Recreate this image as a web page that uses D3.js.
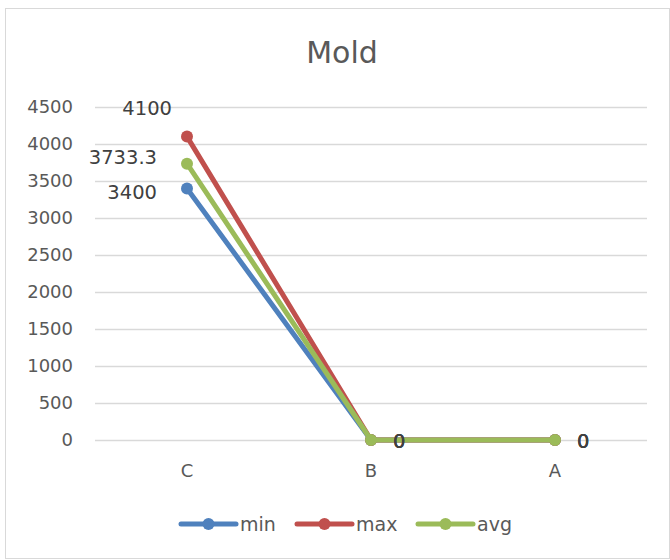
<!DOCTYPE html>
<html><head><meta charset="utf-8">
<script src="https://cdn.jsdelivr.net/npm/d3@7"></script>
<style>body{margin:0;background:#fff}svg{display:block}</style>
</head><body>
<script>
const categories = ["C", "B", "A"];
const minValues = [3400, 0, 0];
const maxValues = [4100, 0, 0];
const avgValues = [3733.3, 0, 0];
const yTicks = [0, 500, 1000, 1500, 2000, 2500, 3000, 3500, 4000, 4500];
const seriesNames = ["min", "max", "avg"];
const seriesColors = ["#4F81BD", "#C0504D", "#9BBB59"];

const series = [
  {name: seriesNames[0], values: minValues, color: seriesColors[0], lab: {dx: -30, dy: 4}},
  {name: seriesNames[1], values: maxValues, color: seriesColors[1], lab: {dx: -15, dy: -29}},
  {name: seriesNames[2], values: avgValues, color: seriesColors[2], lab: {dx: -30, dy: -7}}
];

const W = 670, H = 560;
const font = "'DejaVu Sans', sans-serif";
const svg = d3.select("body").append("svg").attr("width", W).attr("height", H);
svg.append("rect").attr("x", 5.5).attr("y", 8.5).attr("width", W - 6).attr("height", H - 10)
  .attr("fill", "#fff").attr("stroke", "#d9d9d9");

const x = d3.scaleBand().domain(categories).range([95, 647]);
const y = d3.scaleLinear().domain([0, 4500]).range([440, 107]);

svg.append("text").attr("x", 342).attr("y", 63).attr("text-anchor", "middle")
  .attr("font-family", font).attr("font-size", 30).attr("fill", "#595959").text("Mold");

const yAxis = svg.append("g").attr("transform", "translate(95,0)")
  .call(d3.axisLeft(y).tickValues(yTicks).tickFormat(d3.format("d")).tickSize(-552).tickPadding(22));
yAxis.select(".domain").remove();
yAxis.selectAll("line").attr("stroke", "#d9d9d9").attr("stroke-width", 1.3);
yAxis.selectAll("text").attr("font-family", font).attr("font-size", 18).attr("fill", "#595959");

const xAxis = svg.append("g").attr("transform", "translate(0,440)")
  .call(d3.axisBottom(x).tickSize(0).tickPadding(24));
xAxis.select(".domain").remove();
xAxis.selectAll("text").attr("font-family", font).attr("font-size", 18).attr("fill", "#595959");

const cx = (i) => x(categories[i]) + x.bandwidth() / 2;
const line = d3.line().x((d, i) => cx(i)).y(d => y(d));
series.forEach(s => {
  const g = svg.append("g");
  g.append("path").datum(s.values).attr("d", line).attr("fill", "none")
    .attr("stroke", s.color).attr("stroke-width", 5).attr("stroke-linejoin", "round").attr("stroke-linecap", "round");
  g.selectAll("circle").data(s.values).join("circle")
    .attr("cx", (d, i) => cx(i)).attr("cy", d => y(d))
    .attr("r", 6).attr("fill", s.color);
});
series.forEach(s => {
  svg.append("g").selectAll("text").data(s.values).join("text")
    .attr("x", (d, i) => cx(i) + (d === 0 ? 22 : s.lab.dx))
    .attr("y", d => y(d) + (d === 0 ? 1 : s.lab.dy))
    .attr("dy", "0.36em").attr("text-anchor", d => d === 0 ? "start" : "end")
    .attr("font-family", font).attr("font-size", 19.5).attr("fill", "#404040")
    .text(d => d3.format("~r")(d));
});

const legend = svg.append("g");
const legX = [181, 297, 418];
series.forEach((s, i) => {
  const g = legend.append("g").attr("transform", `translate(${legX[i]},524)`);
  g.append("line").attr("x1", 0).attr("x2", 55).attr("stroke", s.color).attr("stroke-width", 5).attr("stroke-linecap", "round");
  g.append("circle").attr("cx", 27.5).attr("r", 6).attr("fill", s.color);
  g.append("text").attr("x", 59).attr("dy", "0.36em").attr("font-family", font).attr("font-size", 19)
    .attr("fill", "#595959").text(s.name);
});
</script>
</body></html>
